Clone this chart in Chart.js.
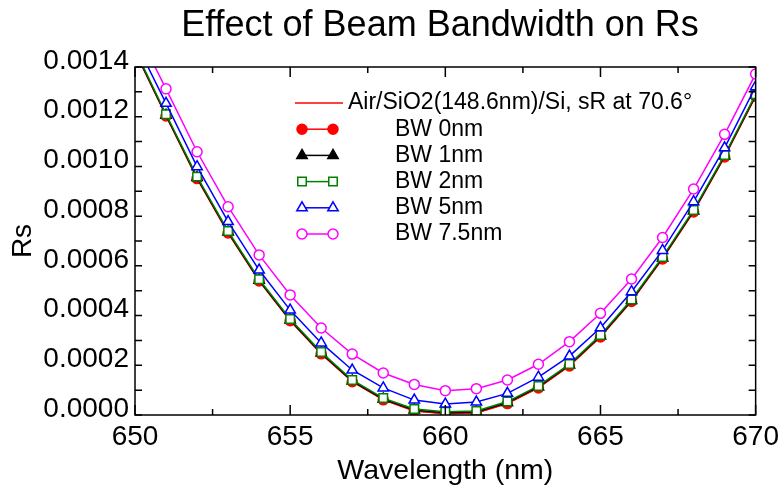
<!DOCTYPE html>
<html lang="en">
<head>
<meta charset="UTF-8">
<title>Effect of Beam Bandwidth on Rs</title>
<script src="https://cdn.jsdelivr.net/npm/chart.js"></script>
<style>
  body { margin: 0; background: #fff; }
  #wrap { width: 784px; height: 488px; }
</style>
</head>
<body>
<div id="wrap"><canvas id="rsChart" width="784" height="488"></canvas></div>
<script>
// wavelength in nm
const wavelength = [650, 651, 652, 653, 654, 655, 656, 657, 658, 659, 660,
                    661, 662, 663, 664, 665, 666, 667, 668, 669, 670];

// Rs values
const airSiO2Rs = [0.001462, 0.001203, 0.000951, 0.000732, 0.000539, 0.000379, 0.000246, 0.000134, 0.000061, 0.000016, 0.000005,
                   0.000008, 0.000046, 0.000109, 0.000197, 0.000314, 0.000457, 0.000628, 0.000817, 0.001038, 0.001282];
const bw0nm = [0.001462, 0.001203, 0.000951, 0.000732, 0.000539, 0.000379, 0.000246, 0.000134, 0.000061, 0.000016, 0.000005,
               0.000008, 0.000046, 0.000109, 0.000197, 0.000314, 0.000457, 0.000628, 0.000817, 0.001038, 0.001282];
const bw1nm = [0.001466, 0.001206, 0.000955, 0.000736, 0.000542, 0.000382, 0.000249, 0.000137, 0.000064, 0.000020, 0.000009,
               0.000012, 0.000050, 0.000113, 0.000201, 0.000318, 0.000461, 0.000632, 0.000821, 0.001042, 0.001286];
const bw2nm = [0.001470, 0.001210, 0.000959, 0.000740, 0.000546, 0.000386, 0.000253, 0.000141, 0.000068, 0.000024, 0.000013,
               0.000016, 0.000054, 0.000117, 0.000205, 0.000322, 0.000465, 0.000636, 0.000825, 0.001046, 0.001290];
const bw5nm = [0.001505, 0.001254, 0.000999, 0.000778, 0.000583, 0.000422, 0.000290, 0.000181, 0.000109, 0.000060, 0.000044,
               0.000052, 0.000087, 0.000152, 0.000237, 0.000351, 0.000496, 0.000662, 0.000858, 0.001075, 0.001321];
const bw75nm = [0.001560, 0.001312, 0.001059, 0.000838, 0.000644, 0.000483, 0.000350, 0.000245, 0.000169, 0.000123, 0.000098,
                0.000106, 0.000141, 0.000204, 0.000295, 0.000409, 0.000547, 0.000714, 0.000909, 0.001129, 0.001372];

const seriesLabels = ['Air/SiO2(148.6nm)/Si, sR at 70.6°', 'BW 0nm', 'BW 1nm', 'BW 2nm', 'BW 5nm', 'BW 7.5nm'];
const xTickLabels = ['650', '655', '660', '665', '670'];

const FONT = "'Liberation Sans', Arial, sans-serif";

function toPoints(ys) {
    return wavelength.map((x, i) => ({ x: x, y: ys[i] }));
}

function series(label, ys, color, style, fill, radius, order) {
    return {
        label: label,
        data: toPoints(ys),
        borderColor: color,
        backgroundColor: fill,
        borderWidth: 1.5,
        pointStyle: style,
        pointRadius: radius,
        pointBorderColor: color,
        pointBackgroundColor: fill,
        pointBorderWidth: 1.5,
        tension: 0,
        order: order
    };
}

const datasets = [
    {
        label: seriesLabels[0],
        data: toPoints(airSiO2Rs),
        borderColor: '#ff0000',
        borderWidth: 1,
        pointRadius: 0,
        tension: 0,
        order: 5
    },
    series(seriesLabels[1], bw0nm, '#ff0000', 'circle', '#ff0000', 5, 4),
    series(seriesLabels[2], bw1nm, '#000000', 'triangle', '#000000', 6, 3),
    series(seriesLabels[3], bw2nm, '#008000', 'rect', '#ffffff', 6, 2),
    series(seriesLabels[4], bw5nm, '#0000ff', 'triangle', '#ffffff', 6, 1),
    series(seriesLabels[5], bw75nm, '#ff00ff', 'circle', '#ffffff', 5, 0)
];

// frame, inward ticks and chart title
const framePlugin = {
    id: 'frame',
    afterDatasetsDraw(chart) {
        const ctx = chart.ctx;
        const a = chart.chartArea;
        const xs = chart.scales.x, ys = chart.scales.y;
        ctx.save();
        ctx.strokeStyle = '#000';
        ctx.lineWidth = 1.5;
        ctx.strokeRect(a.left, a.top, a.right - a.left, a.bottom - a.top);
        ctx.beginPath();
        for (let v = 650; v <= 670; v += 2.5) {
            const px = xs.getPixelForValue(v);
            const len = (v % 5 === 0) ? 10 : 6;
            ctx.moveTo(px, a.bottom); ctx.lineTo(px, a.bottom - len);
            ctx.moveTo(px, a.top); ctx.lineTo(px, a.top + len);
        }
        for (let i = 0; i <= 14; i++) {
            const py = ys.getPixelForValue(i * 0.0001);
            ctx.moveTo(a.left, py); ctx.lineTo(a.left + 7, py);
            ctx.moveTo(a.right, py); ctx.lineTo(a.right - 7, py);
        }
        ctx.stroke();

        ctx.fillStyle = '#000';
        ctx.font = '36px ' + FONT;
        ctx.textAlign = 'center';
        ctx.textBaseline = 'alphabetic';
        ctx.fillText('Effect of Beam Bandwidth on Rs', 440, 36);
        ctx.restore();
    }
};

// legend with a marker at both ends of each sample line
const legendPlugin = {
    id: 'twoMarkerLegend',
    afterDraw(chart) {
        const ctx = chart.ctx;
        const ds = chart.data.datasets;
        ctx.save();
        ctx.font = '23px ' + FONT;
        ctx.textBaseline = 'middle';
        ctx.textAlign = 'left';
        ds.forEach((d, i) => {
            const y = 103 + i * 26.2;
            if (i === 0) {
                ctx.strokeStyle = d.borderColor;
                ctx.lineWidth = 1.5;
                ctx.beginPath(); ctx.moveTo(295, 103); ctx.lineTo(343, 103); ctx.stroke();
                ctx.fillStyle = '#000';
                ctx.fillText(d.label, 348, y);
                return;
            }
            ctx.strokeStyle = d.borderColor;
            ctx.lineWidth = 1.5;
            ctx.beginPath(); ctx.moveTo(302, y); ctx.lineTo(333, y); ctx.stroke();
            [302, 333].forEach(px => {
                ctx.fillStyle = d.pointBackgroundColor;
                ctx.strokeStyle = d.pointBorderColor;
                ctx.lineWidth = d.pointBorderWidth;
                Chart.helpers.drawPoint(ctx, {
                    pointStyle: d.pointStyle, radius: d.pointRadius, rotation: 0, borderWidth: d.pointBorderWidth
                }, px, y);
            });
            ctx.fillStyle = '#000';
            ctx.fillText(d.label, 395, y);
        });
        ctx.restore();
    }
};

new Chart(document.getElementById('rsChart').getContext('2d'), {
    type: 'line',
    data: { datasets: datasets },
    options: {
        responsive: false,
        animation: false,
        layout: { padding: { top: 67, right: 24, bottom: 0, left: 0 } },
        plugins: {
            legend: { display: false },
            title: { display: false },
            tooltip: { enabled: false }
        },
        scales: {
            x: {
                type: 'linear',
                min: 650,
                max: 670,
                afterFit(scale) { scale.height = 73; },
                grid: { display: false, drawTicks: false },
                border: { display: false },
                ticks: {
                    stepSize: 5,
                    padding: 5,
                    color: '#000',
                    font: { family: FONT, size: 28 },
                    callback: (v) => xTickLabels.includes(String(v)) ? String(v) : ''
                },
                title: {
                    display: true,
                    text: 'Wavelength (nm)',
                    color: '#000',
                    font: { family: FONT, size: 28.5 },
                    padding: { top: 0, bottom: 0 }
                }
            },
            y: {
                min: 0,
                max: 0.0014,
                afterFit(scale) { scale.width = 135; },
                grid: { display: false, drawTicks: false },
                border: { display: false },
                ticks: {
                    stepSize: 0.0002,
                    padding: 6,
                    labelOffset: -6,
                    color: '#000',
                    font: { family: FONT, size: 28 },
                    callback: (v) => Number(v).toFixed(4)
                },
                title: {
                    display: true,
                    text: 'Rs',
                    color: '#000',
                    font: { family: FONT, size: 28 },
                    padding: { top: 6, bottom: 0 }
                }
            }
        }
    },
    plugins: [framePlugin, legendPlugin]
});
</script>
</body>
</html>
